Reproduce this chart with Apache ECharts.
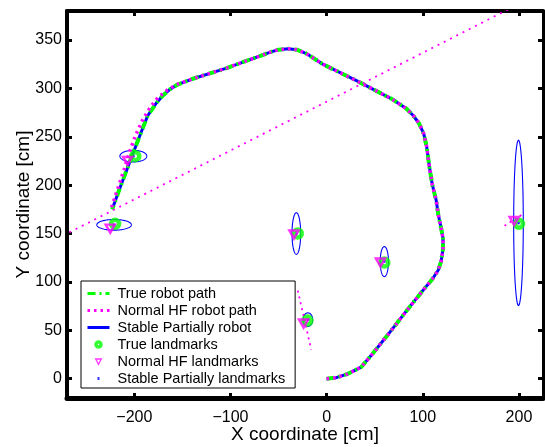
<!DOCTYPE html>
<html>
<head>
<meta charset="utf-8">
<script src="https://cdn.jsdelivr.net/npm/echarts@6/dist/echarts.min.js"></script>
<style>
  html, body { margin: 0; padding: 0; background: #fff; }
  #chart { width: 545px; height: 447px; }
</style>
</head>
<body>
<div id="chart"></div>
<script>
// Axis ticks
const xTicks = [-200, -100, 0, 100, 200];
const yTicks = [0, 50, 100, 150, 200, 250, 300, 350];

// Robot trajectories [x, y] in cm
const truePath = [
  [0, 0], [10, 1], [22, 5], [36, 12], [48, 26], [65, 47], [83, 70], [100, 91],
  [110, 103], [116, 112], [119, 121], [121, 134], [121, 145], [119, 156],
  [116, 170], [114, 184], [110, 200], [107, 218], [104, 240], [101, 253],
  [96, 264], [90, 272], [83, 279], [68, 289], [31, 308], [-4, 325], [-21, 336],
  [-31, 340], [-40, 341], [-50, 340], [-57, 338], [-104, 321], [-139, 310],
  [-155, 304], [-163, 299], [-170, 293], [-177, 285], [-186, 272], [-192, 257],
  [-199, 239], [-207, 218], [-215, 197], [-223, 175]
];
const stablePath = [
  [0, 0], [10, 1], [22, 5], [36, 12], [48, 26], [65, 47], [83, 70], [100, 91],
  [110, 103], [116, 112], [119, 121], [121, 134], [121, 145], [119, 156],
  [116, 170], [114, 184], [110, 200], [107, 218], [104, 240], [101, 253],
  [96, 264], [90, 272], [83, 279], [68, 289], [31, 308], [-4, 325], [-21, 336],
  [-31, 340], [-40, 341], [-50, 340], [-57, 338], [-104, 321], [-139, 310],
  [-155, 304], [-163, 299], [-170, 293], [-177, 285], [-186, 272], [-192, 257],
  [-199, 239], [-207, 218], [-215, 197], [-223, 175]
];
const hfPath = [
  [0, 0], [10, 1], [22, 5], [36, 12], [48, 26], [65, 47], [83, 70], [100, 91],
  [110, 103], [116, 112], [119, 121], [121, 134], [121, 145], [119, 156],
  [116, 170], [114, 184], [110, 200], [107, 218], [104, 240], [101, 253],
  [96, 264], [90, 272], [83, 279], [68, 289], [31, 308], [-4, 325], [-21, 336],
  [-31, 340], [-40, 341], [-50, 340], [-57, 338], [-104, 321], [-139, 310],
  [-156, 304], [-166, 298], [-175, 291], [-183, 281], [-191, 268], [-198, 253],
  [-204, 237], [-210, 218], [-217, 197], [-224, 176]
];
// Diverging HF estimate and its spread at two landmarks
const hfDrift = [[-300, 134.8], [260, 417.6]];
const hfSpreadA = [[-30, 91], [-16, 30]];
const hfSpreadB = [[185, 158], [204, 170]];

// Landmarks [x, y] in cm
const trueLandmarks = [[-220, 160], [-199, 230], [-30, 150], [60, 120], [-20, 60], [200, 160]];
const hfLandmarks = [[-225, 155], [-207, 225], [-34, 149], [56, 120], [-24, 57], [195, 163]];
const stableLandmarks = [[-221, 159], [-201, 230], [-31.5, 150], [60, 121], [-19.5, 61], [199.5, 161]];
// Covariance ellipse semi-axes [rx, ry] in cm, one per stable landmark
const stableSpread = [[18, 5.5], [14, 6], [4.5, 21.5], [4.3, 15.5], [5, 7], [5, 85.5]];

const FONT = 'Liberation Sans, Arial, Helvetica, sans-serif';
const GREEN = '#00ff00', MAGENTA = '#ff00ff', BLUE = '#0000ff';
const NONE = 'rgba(0,0,0,0)';
const minus = v => String(v).replace('-', '\u2212');

const ellipseData = stableLandmarks.map((p, i) => [p[0], p[1], stableSpread[i][0], stableSpread[i][1]]);

const chart = echarts.init(document.getElementById('chart'), null, { renderer: 'canvas' });

const frameTick = (vals, w) => ({
  show: true, inside: true, length: 5, customValues: vals,
  lineStyle: { color: '#000', width: w }
});
// hide the marker that line-series legend icons draw by default
const noMarker = { color: NONE, borderColor: NONE, borderWidth: 0 };

chart.setOption({
  animation: false,
  backgroundColor: '#fff',
  grid: { left: 67, right: 2, top: 11, bottom: 49, containLabel: false, outerBoundsMode: 'none' },
  xAxis: [
    {
      type: 'value', min: -270, max: 225, position: 'bottom',
      axisLine: { show: true, onZero: false, lineStyle: { color: '#000', width: 5 } },
      axisTick: frameTick(xTicks, 3),
      axisLabel: { customValues: xTicks, formatter: minus, color: '#000', fontSize: 16, fontFamily: FONT, margin: 12 },
      splitLine: { show: false },
      name: 'X coordinate [cm]', nameLocation: 'middle', nameGap: 27, nameMoveOverlap: false,
      nameTextStyle: { color: '#000', fontSize: 19, fontFamily: FONT }
    },
    {
      type: 'value', min: -270, max: 225, position: 'top',
      axisLine: { show: true, onZero: false, lineStyle: { color: '#000', width: 4 } },
      axisTick: frameTick(xTicks, 3),
      axisLabel: { show: false }, splitLine: { show: false }
    }
  ],
  yAxis: [
    {
      type: 'value', min: -20, max: 380, position: 'left',
      axisLine: { show: true, onZero: false, lineStyle: { color: '#000', width: 4 } },
      axisTick: frameTick(yTicks, 3),
      axisLabel: { customValues: yTicks, formatter: minus, color: '#000', fontSize: 16, fontFamily: FONT, margin: 5 },
      splitLine: { show: false },
      name: 'Y coordinate [cm]', nameLocation: 'middle', nameGap: 34, nameMoveOverlap: false,
      nameTextStyle: { color: '#000', fontSize: 19, fontFamily: FONT }
    },
    {
      type: 'value', min: -20, max: 380, position: 'right',
      axisLine: { show: true, onZero: false, lineStyle: { color: '#000', width: 3 } },
      axisTick: frameTick(yTicks, 3),
      axisLabel: { show: false }, splitLine: { show: false }
    }
  ],
  legend: {
    orient: 'vertical', left: 81, top: 281,
    backgroundColor: '#fff', borderColor: '#000', borderWidth: 1,
    padding: [4, 10, 1, 5], itemGap: 0, itemWidth: 22, itemHeight: 12,
    textStyle: { color: '#000', fontSize: 14.5, fontFamily: FONT, lineHeight: 17, padding: [0, 0, 0, 3] },
    data: [
      { name: 'True robot path', lineStyle: { width: 3 }, itemStyle: noMarker },
      { name: 'Normal HF robot path', lineStyle: { width: 3 }, itemStyle: noMarker },
      { name: 'Stable Partially robot', lineStyle: { width: 3 }, itemStyle: noMarker },
      { name: 'True landmarks', icon: 'path://M0,0M12,12M6,3.5A2.5,2.5,0,0,1,6,8.5A2.5,2.5,0,0,1,6,3.5Z',
        itemStyle: { borderWidth: 3.5, borderColor: GREEN, color: NONE } },
      { name: 'Normal HF landmarks', icon: 'path://M0,0M12,12M3.2,3.5L8.8,3.5L6,8.8Z',
        itemStyle: { borderWidth: 1.3, borderColor: MAGENTA, color: NONE } },
      { name: 'Stable Partially landmarks', icon: 'path://M0,0M12,12M5,4.5L7,4.5L7,7.5L5,7.5Z',
        itemStyle: { borderWidth: 0, color: BLUE } }
    ]
  },
  series: [
    {
      name: 'Stable landmark covariance', type: 'custom', z: 1, silent: true,
      encode: { x: 0, y: 1 },
      data: ellipseData,
      renderItem: function (params, api) {
        const cx = api.value(0), cy = api.value(1), rx = api.value(2), ry = api.value(3);
        const pts = [];
        for (let k = 0; k <= 96; k++) {
          const t = (k / 96) * Math.PI * 2;
          pts.push(api.coord([cx + rx * Math.cos(t), cy + ry * Math.sin(t)]));
        }
        return { type: 'polyline', shape: { points: pts }, style: { fill: null, stroke: BLUE, lineWidth: 1.1 } };
      }
    },
    {
      name: 'Stable Partially robot', type: 'line', z: 2, symbol: 'none', showSymbol: false,
      data: stablePath, lineStyle: { color: BLUE, width: 3, type: 'solid' }, itemStyle: { color: BLUE }
    },
    {
      name: 'True robot path', type: 'line', z: 3, symbol: 'none', showSymbol: false,
      data: truePath, lineStyle: { color: GREEN, width: 4, type: [8, 4, 2, 4] }, itemStyle: { color: GREEN }
    },
    {
      name: 'Normal HF robot path', type: 'line', z: 4, symbol: 'none', showSymbol: false,
      data: hfPath, lineStyle: { color: MAGENTA, width: 3.5, type: [2.5, 4] }, itemStyle: { color: MAGENTA }
    },
    {
      name: 'HF drift', type: 'line', z: 4, symbol: 'none', showSymbol: false, clip: true,
      data: hfDrift, lineStyle: { color: MAGENTA, width: 1.8, type: [2, 5] }
    },
    {
      name: 'HF spread A', type: 'line', z: 4, symbol: 'none', showSymbol: false,
      data: hfSpreadA, lineStyle: { color: MAGENTA, width: 1.8, type: [2, 4] }
    },
    {
      name: 'HF spread B', type: 'line', z: 4, symbol: 'none', showSymbol: false,
      data: hfSpreadB, lineStyle: { color: MAGENTA, width: 1.8, type: [2, 4] }
    },
    {
      name: 'Stable Partially landmarks', type: 'scatter', z: 5, symbol: 'circle', symbolSize: 3,
      data: stableLandmarks, itemStyle: { color: BLUE }
    },
    {
      name: 'True landmarks', type: 'scatter', z: 6, symbol: 'circle', symbolSize: 8,
      data: trueLandmarks, itemStyle: { color: NONE, borderColor: GREEN, borderWidth: 4.5 }
    },
    {
      name: 'Normal HF landmarks', type: 'scatter', z: 7, symbol: 'triangle', symbolRotate: 180,
      symbolSize: [9, 8], data: hfLandmarks,
      itemStyle: { color: NONE, borderColor: MAGENTA, borderWidth: 2.5 }
    }
  ]
});
</script>
</body>
</html>
